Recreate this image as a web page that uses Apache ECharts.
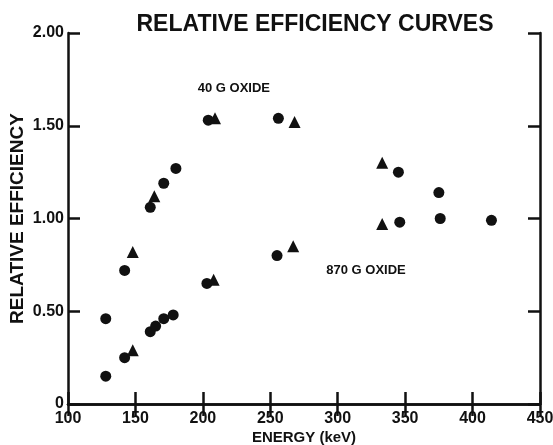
<!DOCTYPE html>
<html>
<head>
<meta charset="utf-8">
<script src="https://cdn.jsdelivr.net/npm/echarts@6/dist/echarts.min.js"></script>
<style>
  html, body { margin: 0; padding: 0; background: #fff; }
  #chart { width: 553px; height: 445px; }
</style>
</head>
<body>
<div id="chart"></div>
<script>
// 40 g oxide (upper curve)
const oxide40CircleEnergy = [128, 142, 161, 171, 180, 204, 256, 345, 375];
const oxide40CircleEff    = [0.46, 0.72, 1.06, 1.19, 1.27, 1.53, 1.54, 1.25, 1.14];
const oxide40TriEnergy    = [148, 164, 209, 268, 333];
const oxide40TriEff       = [0.82, 1.12, 1.54, 1.52, 1.30];

// 870 g oxide (lower curve)
const oxide870CircleEnergy = [128, 142, 161, 165, 171, 178, 203, 255, 346, 376, 414];
const oxide870CircleEff    = [0.15, 0.25, 0.39, 0.42, 0.46, 0.48, 0.65, 0.80, 0.98, 1.00, 0.99];
const oxide870TriEnergy    = [148, 208, 267, 333];
const oxide870TriEff       = [0.29, 0.67, 0.85, 0.97];

const xTicks = [100, 150, 200, 250, 300, 350, 400, 450];
const yTicks = [0, 0.5, 1.0, 1.5, 2.0];

const ink = '#111';
const font = '"Liberation Sans", Arial, sans-serif';

function pairs(xs, ys) {
  return xs.map((x, i) => [x, ys[i]]);
}

const chart = echarts.init(document.getElementById('chart'));

const axisLineStyle = { color: ink, width: 2.5 };

chart.setOption({
  animation: false,
  backgroundColor: '#fff',
  title: {
    text: 'RELATIVE EFFICIENCY CURVES',
    left: 310,
    textAlign: 'center',
    top: 8,
    textStyle: { color: ink, fontFamily: font, fontWeight: 'bold', fontSize: 23 }
  },
  grid: { left: 68, right: 13, top: 33, bottom: 41, outerBoundsMode: 'none' },
  xAxis: [
    {
      type: 'value',
      min: xTicks[0],
      max: xTicks[xTicks.length - 1],
      interval: 50,
      name: 'ENERGY (keV)',
      nameLocation: 'middle',
      nameGap: 26,
      nameMoveOverlap: false,
      nameTextStyle: { color: ink, fontFamily: font, fontWeight: 'bold', fontSize: 15, verticalAlign: 'top' },
      axisLine: { lineStyle: axisLineStyle },
      axisTick: { inside: true, length: 12, lineStyle: { color: ink, width: 2.5 } },
      axisLabel: { color: ink, fontFamily: font, fontWeight: 'bold', fontSize: 16, margin: 7 },
      splitLine: { show: false }
    },
    {
      type: 'value',
      position: 'top',
      min: xTicks[0],
      max: xTicks[xTicks.length - 1],
      interval: 50,
      axisLine: { show: true, lineStyle: axisLineStyle },
      axisTick: { inside: true, length: 12, lineStyle: { color: ink, width: 2.5 } },
      axisLabel: { show: false },
      splitLine: { show: false }
    }
  ],
  yAxis: [
    {
      type: 'value',
      min: yTicks[0],
      max: yTicks[yTicks.length - 1],
      interval: 0.5,
      name: 'RELATIVE EFFICIENCY',
      nameLocation: 'middle',
      nameGap: 41,
      nameRotate: 90,
      nameMoveOverlap: false,
      nameTextStyle: { color: ink, fontFamily: font, fontWeight: 'bold', fontSize: 19 },
      axisLine: { lineStyle: axisLineStyle },
      axisTick: { inside: true, length: 12, lineStyle: { color: ink, width: 2.5 } },
      axisLabel: {
        color: ink, fontFamily: font, fontWeight: 'bold', fontSize: 16, margin: 4,
        formatter: v => (v === 0 ? '0' : v.toFixed(2))
      },
      splitLine: { show: false }
    },
    {
      type: 'value',
      position: 'right',
      min: yTicks[0],
      max: yTicks[yTicks.length - 1],
      interval: 0.5,
      axisLine: { show: true, lineStyle: axisLineStyle },
      axisTick: { inside: true, length: 12, lineStyle: { color: ink, width: 2.5 } },
      axisLabel: { show: false },
      splitLine: { show: false }
    }
  ],
  series: [
    {
      name: '40 G OXIDE circles',
      type: 'scatter',
      symbol: 'circle',
      symbolSize: 11,
      itemStyle: { color: ink, opacity: 1 },
      data: pairs(oxide40CircleEnergy, oxide40CircleEff),
      markPoint: {
        symbol: 'circle',
        symbolSize: 0,
        label: { show: true, formatter: '40 G OXIDE', color: ink, fontFamily: font, fontWeight: 'bold', fontSize: 13 },
        data: [{ coord: [223, 1.70] }]
      }
    },
    {
      name: '40 G OXIDE triangles',
      type: 'scatter',
      symbol: 'triangle',
      symbolSize: 12,
      itemStyle: { color: ink, opacity: 1 },
      data: pairs(oxide40TriEnergy, oxide40TriEff)
    },
    {
      name: '870 G OXIDE circles',
      type: 'scatter',
      symbol: 'circle',
      symbolSize: 11,
      itemStyle: { color: ink, opacity: 1 },
      data: pairs(oxide870CircleEnergy, oxide870CircleEff),
      markPoint: {
        symbol: 'circle',
        symbolSize: 0,
        label: { show: true, formatter: '870 G OXIDE', color: ink, fontFamily: font, fontWeight: 'bold', fontSize: 13 },
        data: [{ coord: [321, 0.72] }]
      }
    },
    {
      name: '870 G OXIDE triangles',
      type: 'scatter',
      symbol: 'triangle',
      symbolSize: 12,
      itemStyle: { color: ink, opacity: 1 },
      data: pairs(oxide870TriEnergy, oxide870TriEff)
    }
  ]
});
</script>
</body>
</html>
